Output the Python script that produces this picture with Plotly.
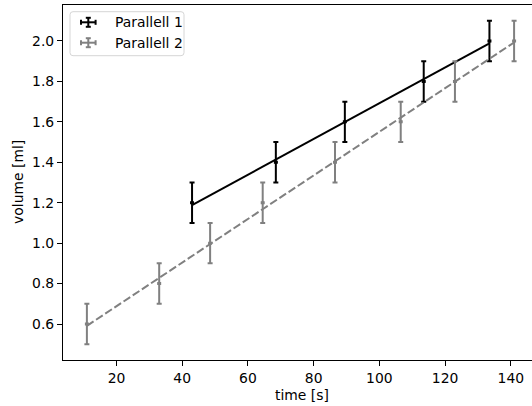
import numpy as np
import plotly.graph_objects as go

# Measurements: time [s] vs. volume [ml] for two parallel runs
time_p1 = [43, 68.5, 89.5, 113.5, 133.5]
volume_p1 = [1.2, 1.4, 1.6, 1.8, 2.0]
time_p2 = [11, 33, 48.5, 64.5, 86.5, 106.5, 123, 141]
volume_p2 = [0.6, 0.8, 1.0, 1.2, 1.4, 1.6, 1.8, 2.0]
time_err = 0.3
volume_err = 0.1

series_names = ["Parallell 1", "Parallell 2"]
series_colors = ["#000000", "#808080"]
series_dash = ["solid", "8px,3px"]
x_ticks = [20, 40, 60, 80, 100, 120, 140]
y_ticks = [0.6, 0.8, 1.0, 1.2, 1.4, 1.6, 1.8, 2.0]

W, H = 532, 406
ML, MR, MT, MB = 63, 0, 5, 46
FONT = "DejaVu Sans"
FS = 13.9

fig = go.Figure()


def err(value, color, width):
    return dict(type="constant", value=value, color=color, thickness=2, width=width)


for t, v, name, color, dash in zip([time_p1, time_p2], [volume_p1, volume_p2],
                                   series_names, series_colors, series_dash):
    # measured points with error bars
    fig.add_trace(go.Scatter(
        x=t, y=v, mode="markers", name=name,
        marker=dict(size=3, color=color),
        error_y=err(volume_err, color, 2.5),
        error_x=err(time_err, color, 1.5),
        showlegend=False,
    ))
    # least-squares straight line through the run
    slope, icpt = np.polyfit(t, v, 1)
    xs = np.array([min(t), max(t)])
    fig.add_trace(go.Scatter(
        x=xs, y=slope * xs + icpt, mode="lines",
        line=dict(color=color, width=2, dash=dash),
        showlegend=False, hoverinfo="skip",
    ))

# pixel -> paper helpers for the hand-drawn legend
PW = W - ML - MR
PH = H - MT - MB


def px(x):
    return (x - ML) / PW


def py(y):
    return (H - MB - y) / PH


shapes = []
# rounded legend frame
x0, x1, y0, y1, r = 70, 184, 11.7, 55.7, 3
path = (f"M {px(x0 + r)},{py(y0)} L {px(x1 - r)},{py(y0)} Q {px(x1)},{py(y0)} {px(x1)},{py(y0 + r)} "
        f"L {px(x1)},{py(y1 - r)} Q {px(x1)},{py(y1)} {px(x1 - r)},{py(y1)} "
        f"L {px(x0 + r)},{py(y1)} Q {px(x0)},{py(y1)} {px(x0)},{py(y1 - r)} "
        f"L {px(x0)},{py(y0 + r)} Q {px(x0)},{py(y0)} {px(x0 + r)},{py(y0)} Z")
shapes.append(dict(type="path", xref="paper", yref="paper", path=path,
                   line=dict(color="#d6d6d6", width=1), fillcolor="rgba(255,255,255,0.8)"))


def seg(xa, ya, xb, yb, color):
    shapes.append(dict(type="line", xref="paper", yref="paper",
                       x0=px(xa), y0=py(ya), x1=px(xb), y1=py(yb),
                       line=dict(color=color, width=2)))


annotations = []
for i, (name, color) in enumerate(zip(series_names, series_colors)):
    cy = 22.3 + i * 20.4
    cx = 88.3
    seg(cx - 7.3, cy, cx + 7.3, cy, color)          # horizontal bar
    seg(cx, cy - 4.5, cx, cy + 4.5, color)          # vertical bar
    seg(cx - 2.5, cy - 4.5, cx + 2.5, cy - 4.5, color)
    seg(cx - 2.5, cy + 4.5, cx + 2.5, cy + 4.5, color)
    seg(cx - 7.3, cy - 2.5, cx - 7.3, cy + 2.5, color)
    seg(cx + 7.3, cy - 2.5, cx + 7.3, cy + 2.5, color)
    annotations.append(dict(xref="paper", yref="paper", x=px(112.5), y=py(cy),
                            text=name, showarrow=False, xanchor="left", yanchor="middle",
                            font=dict(family=FONT, size=FS, color="black")))

# axis titles
annotations.append(dict(xref="paper", yref="paper", x=px(301.5), y=py(395),
                        text="time [s]", showarrow=False, xanchor="center", yanchor="middle",
                        font=dict(family=FONT, size=FS, color="black")))
annotations.append(dict(xref="paper", yref="paper", x=px(18.5), y=py(182.4),
                        text="volume [ml]", showarrow=False, textangle=-90,
                        xanchor="center", yanchor="middle",
                        font=dict(family=FONT, size=FS, color="black")))

axis_common = dict(showgrid=False, zeroline=False, showline=True, linecolor="black",
                   linewidth=1.1, ticks="outside", ticklen=5, tickwidth=1.1,
                   tickcolor="black", tickfont=dict(family=FONT, size=FS, color="black"))

fig.update_layout(
    width=W, height=H,
    margin=dict(l=ML, r=MR, t=MT, b=MB, pad=0),
    paper_bgcolor="white", plot_bgcolor="white",
    xaxis=dict(range=[3.73, 146.45], tickvals=x_ticks, mirror=True,
               ticklabelstandoff=0, **axis_common),
    yaxis=dict(range=[0.422, 2.178], tickvals=y_ticks, tickformat=".1f",
               ticklabelstandoff=0, **axis_common),
    shapes=shapes, annotations=annotations,
    showlegend=False,
)

fig.write_html("out.html")
